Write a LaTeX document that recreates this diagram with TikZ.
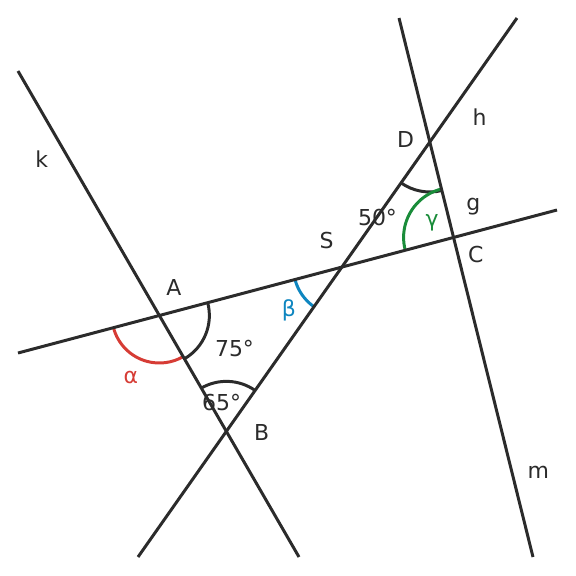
\documentclass[tikz,border=0pt]{standalone}
\usepackage{fontspec}
\setmainfont{DejaVu Sans}
\usetikzlibrary{angles}
\definecolor{ink}{HTML}{2B2B2B}
\definecolor{myred}{HTML}{D63C35}
\definecolor{myblue}{HTML}{0E86C0}
\definecolor{mygreen}{HTML}{1A8C3A}
\tikzset{
  gline/.style={draw=ink, line width=1.7pt},
  arcmark/.style={draw=#1, line width=1.7pt, angle radius=1cm},
  lbl/.style={text=ink, inner sep=0pt, font=\fontsize{12.5}{15}\selectfont},
}
\begin{document}
\begin{tikzpicture}[x=0.02cm, y=-0.02cm]
\useasboundingbox (0,0) rectangle (576,576);
% line end points
\coordinate (k1) at (18,71);   \coordinate (k2) at (299,557);
\coordinate (g1) at (18,353);  \coordinate (g2) at (557,210);
\coordinate (h1) at (138,557); \coordinate (h2) at (517,18);
\coordinate (m1) at (399,18);  \coordinate (m2) at (533,557);
% intersection points
\coordinate (A) at (intersection of k1--k2 and g1--g2);
\coordinate (B) at (intersection of k1--k2 and h1--h2);
\coordinate (S) at (intersection of g1--g2 and h1--h2);
\coordinate (D) at (intersection of h1--h2 and m1--m2);
\coordinate (C) at (intersection of g1--g2 and m1--m2);
% angle arcs
\pic[arcmark=ink] {angle=B--A--C};
\pic[arcmark=myred, angle radius=0.95cm] {angle=g1--A--B};
\pic[arcmark=ink] {angle=S--B--A};
\pic[arcmark=myblue, angle radius=0.97cm] {angle=A--S--B};
\pic[arcmark=ink] {angle=S--D--C};
\pic[arcmark=mygreen] {angle=D--C--S};
% lines
\draw[gline] (k1) -- (k2);
\draw[gline] (g1) -- (g2);
\draw[gline] (h1) -- (h2);
\draw[gline] (m1) -- (m2);
% labels
\node[lbl] (lk) at (41.7,159.5) {k};
\node[lbl] (lA) at (174,287.7) {A};
\node[lbl] (l75) at (234.5,348) {75°};
\node[lbl, text=myred] (lal) at (130.8,377.8) {α};
\node[lbl] (l65) at (221.7,402.5) {65°};
\node[lbl] (lB) at (261.7,432) {B};
\node[lbl, text=myblue] (lbe) at (289,310) {β};
\node[lbl] (lS) at (326.7,240) {S};
\node[lbl] (l50) at (377.5,217.5) {50°};
\node[lbl, text=mygreen] (lga) at (432,223) {γ};
\node[lbl] (lD) at (405.7,139) {D};
\node[lbl] (lh) at (479.7,116.7) {h};
\node[lbl] (lg) at (473.3,206.3) {g};
\node[lbl] (lC) at (475.8,254) {C};
\node[lbl] (lm) at (538.3,472.8) {m};
\end{tikzpicture}
\end{document}
